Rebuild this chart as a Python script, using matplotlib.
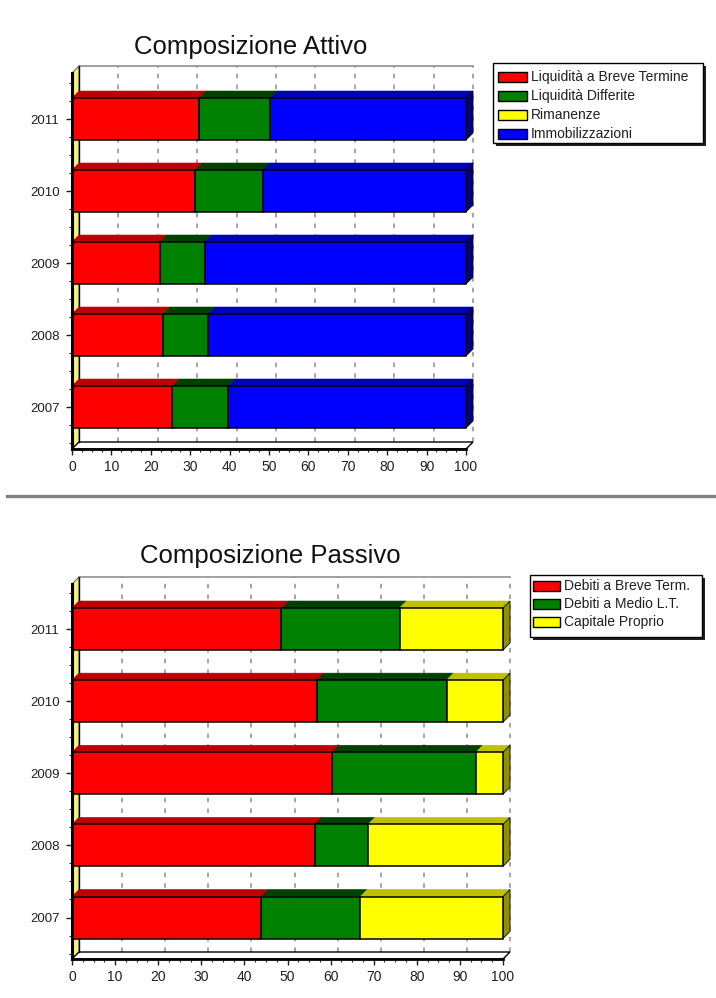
import matplotlib
matplotlib.use("Agg")
import matplotlib.pyplot as plt
from matplotlib.patches import Polygon, Rectangle
from matplotlib.lines import Line2D
import numpy as np

plt.rcParams['font.family'] = ['Liberation Sans', 'DejaVu Sans']

# ---- data ---------------------------------------------------------------
years = ["2007", "2008", "2009", "2010", "2011"]

attivo_labels = ["Liquidità a Breve Termine", "Liquidità Differite",
                 "Rimanenze", "Immobilizzazioni"]
liq_breve = [25.5, 23.2, 22.3, 31.3, 32.3]
liq_differite = [14.2, 11.4, 11.5, 17.1, 18.0]
rimanenze = [0.0, 0.0, 0.0, 0.0, 0.0]
immobilizzazioni = [60.3, 65.4, 66.2, 51.6, 49.7]

passivo_labels = ["Debiti a Breve Term.", "Debiti a Medio L.T.", "Capitale Proprio"]
debiti_breve = [43.9, 56.3, 60.3, 56.8, 48.6]
debiti_medio = [23.0, 12.4, 33.4, 30.1, 27.4]
capitale_proprio = [33.1, 31.3, 6.3, 13.1, 24.0]

x_ticks = list(range(0, 101, 10))

# face colours: front, top, side
RED = ("#ff0000", "#c00000", "#800000")
GREEN = ("#008000", "#004000", "#003000")
YELLOW = ("#ffff00", "#c0c000", "#909000")
BLUE = ("#0000ff", "#0000b8", "#000080")

W, H = 716, 998
fig = plt.figure(figsize=(W / 100, H / 100), dpi=100)
fig.patch.set_facecolor("white")


def px_axes(left, top, right, bottom):
    return fig.add_axes([left / W, 1 - bottom / H, (right - left) / W, (bottom - top) / H])


def chart(x0, x100, top, floor, y_first, y_last, depth, series, colors):
    spacing = (y_first - y_last) / (len(years) - 1)
    ymin = -(floor - y_first) / spacing
    ymax = (len(years) - 1) + (y_last - top) / spacing
    DX = depth * 100.0 / (x100 - x0)
    DY = depth / spacing
    BH = 42.0 / spacing

    ax = px_axes(x0, top, x100 + depth, floor)
    ax.set_xlim(0, 100 + DX)
    ax.set_ylim(ymin, ymax)
    for s in ax.spines.values():
        s.set_visible(False)
    ax.patch.set_alpha(0)

    yb = ymin + DY  # back floor level
    # back wall
    ax.add_patch(Rectangle((DX, yb), 100, ymax - yb, facecolor="white",
                           edgecolor="none", zorder=0))
    ax.plot([DX, 100 + DX], [ymax, ymax], color="#909090", lw=1.2,
            clip_on=False, zorder=1)
    for gx in x_ticks[1:]:
        ax.plot([gx + DX, gx + DX], [yb, ymax], color="#8c8c8c", lw=1.1,
                linestyle=(0, (3, 4)), clip_on=False, zorder=1)
    # left wall
    ax.add_patch(Polygon([(0, ymin), (DX, yb), (DX, ymax), (0, ymax - DY)],
                         closed=True, facecolor="#f4ee88", edgecolor="#707050",
                         lw=0.8, clip_on=False, zorder=2))
    # floor
    ax.add_patch(Polygon([(0, ymin), (100, ymin), (100 + DX, yb), (DX, yb)],
                         closed=True, facecolor="white", edgecolor="black",
                         lw=1.0, clip_on=False, zorder=2))
    ax.plot([DX, DX], [yb, ymax], color="black", lw=1.0, zorder=2)

    # stacked bars with 3D top and side faces
    idx = np.arange(len(years))
    lefts = np.zeros(len(years))
    last_seg = {}
    for vals, col in zip(series, colors):
        vals = np.asarray(vals, dtype=float)
        m = vals > 0
        ax.barh(idx[m], vals[m], left=lefts[m], height=BH, color=col[0],
                edgecolor="black", linewidth=1.1, zorder=5)
        for i in idx[m]:
            l, v = lefts[i], vals[i]
            yt = i + BH / 2
            ax.add_patch(Polygon([(l, yt), (l + v, yt), (l + v + DX, yt + DY), (l + DX, yt + DY)],
                                 closed=True, facecolor=col[1], edgecolor=col[1],
                                 lw=0.4, zorder=4, clip_on=False))
            last_seg[i] = (l + v, col)
        lefts = lefts + vals
    for i, (xr, col) in last_seg.items():
        yt, ybt = i + BH / 2, i - BH / 2
        ax.add_patch(Polygon([(xr, ybt), (xr + DX, ybt + DY), (xr + DX, yt + DY), (xr, yt)],
                             closed=True, facecolor=col[2], edgecolor="black",
                             lw=0.6, zorder=4, clip_on=False))

    # front axis lines
    ax.plot([0, 0], [ymin, ymax - DY], color="black", lw=2.2, clip_on=False, zorder=6)
    ax.plot([0, 100], [ymin, ymin], color="black", lw=2.0, clip_on=False, zorder=6)

    ax.set_xticks(x_ticks)
    ax.set_xticks(np.arange(0, 100.1, 2.5), minor=True)
    ax.set_yticks(idx)
    ax.set_yticklabels(years)
    ax.set_yticks(np.arange(-0.5, len(years) - 0.49, 0.25), minor=True)
    ax.tick_params(axis="both", which="major", direction="out", length=4,
                   width=1, colors="#202020")
    ax.tick_params(axis="x", which="major", labelsize=10, pad=4)
    ax.tick_params(axis="y", which="major", labelsize=9.5, pad=5)
    ax.tick_params(axis="both", which="minor", direction="out", length=2.5,
                   width=0.8, colors="#202020")
    return ax


chart(72, 466, 66, 449, 407, 119, 7,
      [liq_breve, liq_differite, rimanenze, immobilizzazioni],
      [RED, GREEN, YELLOW, BLUE])
chart(72, 503, 577, 959, 917.5, 629, 7,
      [debiti_breve, debiti_medio, capitale_proprio],
      [RED, GREEN, YELLOW])

# overlay in pixel units for titles, legends and the separator
ov = fig.add_axes([0, 0, 1, 1])
ov.set_xlim(0, W)
ov.set_ylim(H, 0)
ov.axis("off")
ov.patch.set_alpha(0)

ov.text(251, 47, "Composizione Attivo", ha="center", va="center",
        fontsize=18.5, color="#111111")
ov.text(270, 556, "Composizione Passivo", ha="center", va="center",
        fontsize=18.5, color="#111111")

ov.add_line(Line2D([7, 716], [496, 496], color="#808080", lw=2.4))


def legend(box, rows_y, patch_x, text_x, labels, colors):
    l, t, r, b = box
    ov.add_patch(Rectangle((l + 3, t + 3), r - l, b - t, facecolor="#202020",
                           edgecolor="none"))
    ov.add_patch(Rectangle((l, t), r - l, b - t, facecolor="white",
                           edgecolor="black", lw=1.0))
    for y, lab, col in zip(rows_y, labels, colors):
        ov.add_patch(Rectangle((patch_x[0], y - 5), patch_x[1] - patch_x[0], 10,
                               facecolor=col[0], edgecolor="black", lw=1.0))
        ov.text(text_x, y, lab, ha="left", va="center", fontsize=10,
                color="#202020")


legend((493, 63, 703, 143), [77, 96, 115, 134], (498, 527), 531,
       attivo_labels, [RED, GREEN, YELLOW, BLUE])
legend((530, 575, 702, 637), [586, 604, 622], (533, 560), 564,
       passivo_labels, [RED, GREEN, YELLOW])

fig.savefig("out.png", dpi=100, facecolor="white")
